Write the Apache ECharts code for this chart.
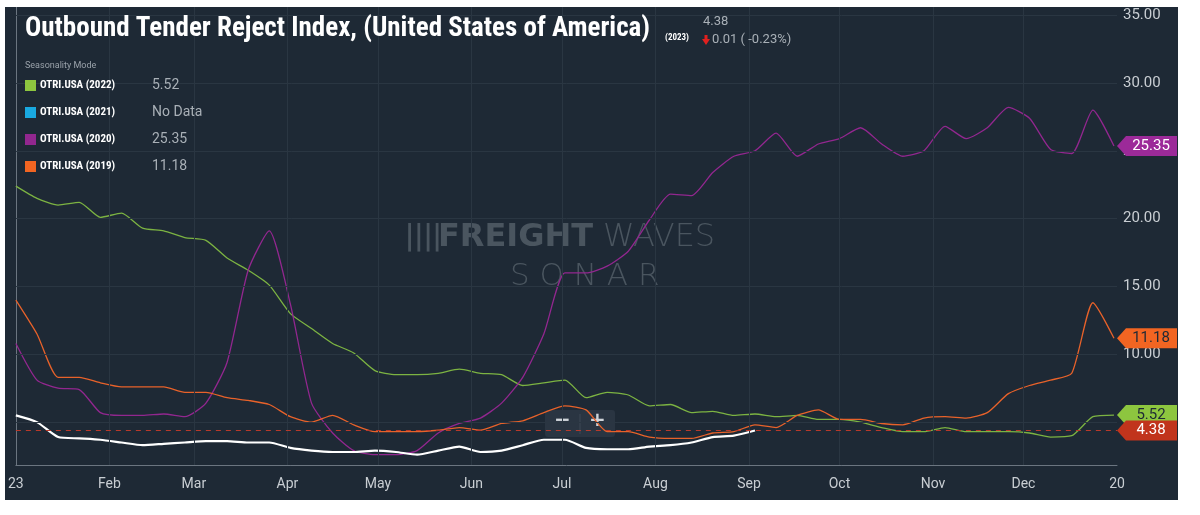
<!DOCTYPE html>
<html><head><meta charset="utf-8">
<script src="https://cdn.jsdelivr.net/npm/echarts@6/dist/echarts.min.js"></script>
<style>html,body{margin:0;background:#fff;}#c{position:absolute;left:5px;top:7px;width:1173px;height:493px;background:#1e2935;}</style>
</head><body><div id="c"></div>
<script>
const weekDays = Array.from({length:53},(_,i)=>i*7);
const s2022 = [22.4,21.5,21.0,21.2,20.1,20.4,19.3,19.1,18.6,18.4,17.1,16.2,15.1,13.0,11.9,10.8,10.1,8.8,8.5,8.5,8.6,8.9,8.6,8.5,7.7,7.9,8.1,6.8,7.2,7.0,6.2,6.3,5.7,5.8,5.5,5.6,5.4,5.5,5.2,5.2,5.0,4.6,4.3,4.3,4.6,4.3,4.3,4.3,4.2,3.9,4.0,5.4,5.52];
const s2020 = [10.8,8.1,7.5,7.4,5.7,5.5,5.5,5.6,5.4,6.4,9.4,16.2,19.1,13.7,6.4,4.2,2.9,2.6,2.6,2.9,4.2,4.9,5.3,6.4,8.3,11.5,16.0,16.0,16.5,17.6,19.9,21.8,21.7,23.4,24.6,25.0,26.3,24.6,25.5,25.9,26.7,25.5,24.6,25.0,26.8,25.9,26.7,28.2,27.4,25.1,24.8,28.0,25.35];
const s2019 = [14.0,11.5,8.3,8.3,7.9,7.6,7.6,7.6,7.2,7.2,6.8,6.6,6.3,5.4,5.0,5.5,4.8,4.3,4.3,4.3,4.4,4.6,4.4,4.9,5.1,5.7,6.2,5.9,4.3,4.3,3.9,3.8,3.8,4.2,4.3,4.8,4.6,5.5,5.9,5.2,5.2,4.9,4.8,5.3,5.4,5.3,5.7,7.1,7.7,8.1,8.6,13.8,11.18];
const s2023 = [5.5,5.0,3.9,3.8,3.7,3.5,3.3,3.4,3.5,3.6,3.6,3.5,3.5,3.1,2.9,2.8,2.8,2.9,2.8,2.6,2.9,3.2,2.8,2.9,3.3,3.7,3.7,3.1,3.0,3.0,3.2,3.3,3.5,3.9,4.0,4.38];
const monthDays = [0,31,59,90,120,151,181,212,243,273,304,334,365];
const monthLabels = ['23','Feb','Mar','Apr','May','Jun','Jul','Aug','Sep','Oct','Nov','Dec','20'];
const yTicks = [10,15,20,25,30,35];
const latest = 4.38;

const pairs = a => a.map((v,i)=>[weekDays[i],v]);
const tag = 'path://M0,10 L9,0 L60,0 L60,20 L9,20 Z';
function mp(val, color, txtColor){
  return {symbol:tag, symbolSize:[60,20], symbolOffset:[30,0], silent:true,
    label:{show:true, color:txtColor||'#fff', fontSize:15, fontFamily:'Roboto', offset:[4,0], formatter:()=>val.toFixed(2)},
    itemStyle:{color}, data:[{coord:[365,val]}]};
}
const chart = echarts.init(document.getElementById('c'));
const F='Roboto';
const wm='#4a555f';
chart.setOption({
  animation:false,
  grid:{left:0,right:61,top:0,bottom:35},
  xAxis:{type:'value',min:0,max:365,
    axisLine:{show:true,lineStyle:{color:'#6b7580'}},axisTick:{show:false},
    axisLabel:{customValues:monthDays,color:'#c9ced3',fontSize:14,fontFamily:F,margin:12,formatter:v=>monthLabels[monthDays.indexOf(v)]},
    splitLine:{show:false}},
  yAxis:{type:'value',position:'right',min:1.84,max:35.6,
    axisLine:{show:true,lineStyle:{color:'#6b7580'}},axisTick:{show:false,customValues:yTicks},
    axisLabel:{customValues:yTicks,color:'#c9ced3',fontSize:15,fontFamily:F,margin:6,formatter:v=>v.toFixed(2)},
    splitLine:{show:false}},
  graphic:[
    {type:'text',left:20,top:9,z:100,style:{text:'Outbound Tender Reject Index, (United States of America)',fill:'#fff',font:'bold 27px "Roboto Condensed", "Liberation Sans Narrow", Roboto'}},
    {type:'text',left:660,top:26,z:100,style:{text:'(2023)',fill:'#fff',font:'bold 9px "Roboto Condensed"'}},
    {type:'text',left:698,top:8,z:100,style:{text:'4.38',fill:'#a9b0b7',font:'13px Roboto'}},
    {type:'text',left:707,top:26,z:100,style:{text:'0.01 ( -0.23%)',fill:'#a9b0b7',font:'13px Roboto'}},
    {type:'polygon',z:100,shape:{points:[[697,32],[705,32],[701,38]]},style:{fill:'#e0201f'}},
    {type:'rect',z:100,shape:{x:699.5,y:28,width:3,height:5},style:{fill:'#e0201f'}},
    {type:'text',left:20,top:54,z:100,style:{text:'Seasonality Mode',fill:'#9aa2aa',font:'9px Roboto'}},
    ...[['#8dc63f','OTRI.USA (2022)','5.52'],['#19a9e1','OTRI.USA (2021)','No Data'],['#92278f','OTRI.USA (2020)','25.35'],['#f26522','OTRI.USA (2019)','11.18']].flatMap((r,i)=>[
      {type:'rect',z:100,shape:{x:20,y:73+i*27,width:11,height:11},style:{fill:r[0]}},
      {type:'text',z:100,left:35,top:73+i*27,style:{text:r[1],fill:'#fff',font:'bold 11px "Roboto Condensed", Roboto'}},
      {type:'text',z:100,left:147,top:71+i*27,style:{text:r[2],fill:'#a9b0b7',font:'14px Roboto'}}]),
    {type:'group',left:400,top:215,z:-1,children:[
      {type:'text',x:0,y:2,style:{text:'||||',fill:wm,font:'bold 28px "DejaVu Sans Condensed"'}},
      {type:'text',x:33,y:0,style:{text:'FREIGHT',fill:wm,font:'900 32px "DejaVu Sans"'}},
      {type:'text',x:198,y:0,style:{text:'WAVES',fill:wm,font:'200 32px "DejaVu Sans"'}}]},
    {type:'text',left:505,top:254,z:-1,style:{text:'S O N A R',fill:wm,font:'200 31px "DejaVu Sans"'}},
    {type:'rect',shape:{x:540,y:403,width:70,height:27,r:3},style:{fill:'#2a3542'}},
    {type:'text',left:549,top:404,style:{text:'−',fill:'#d0d5da',font:'bold 20px "DejaVu Sans"'}},
    {type:'text',left:584,top:404,style:{text:'+',fill:'#d0d5da',font:'bold 20px "DejaVu Sans"'}},
    {type:'line',shape:{x1:575,y1:407,x2:575,y2:427},style:{stroke:'#3c4855'}}
  ],
  series:[
    {type:'line',data:[[0,0]],showSymbol:false,lineStyle:{opacity:0},silent:true,
      markLine:{silent:true,symbol:'none',label:{show:false},lineStyle:{color:'#2a3642',width:1,type:'solid'},
        data:[...yTicks.map(v=>({yAxis:v})),{yAxis:5},...monthDays.slice(1,12).map(d=>({xAxis:d}))]}},
    {name:'2022',type:'line',data:pairs(s2022),showSymbol:false,lineStyle:{color:'#7cb342',width:1.3},smooth:0.2,markPoint:mp(5.52,'#8dc63f','#1e2935')},
    {name:'2020',type:'line',data:pairs(s2020),showSymbol:false,lineStyle:{color:'#92278f',width:1.3},smooth:0.2,markPoint:mp(25.35,'#9c2a99')},
    {name:'2019',type:'line',data:pairs(s2019),showSymbol:false,lineStyle:{color:'#e8622a',width:1.3},smooth:0.2,markPoint:mp(11.18,'#f26522','#1e2935')},
    {name:'2023',type:'line',data:pairs(s2023),showSymbol:false,lineStyle:{color:'#ffffff',width:2.2},smooth:0.2,
      markLine:{silent:true,symbol:'none',label:{show:false},lineStyle:{color:'#b8392a',type:[5,5],width:1},data:[{yAxis:latest}]},
      markPoint:mp(latest,'#c1341c')}
  ]
});
</script></body></html>
